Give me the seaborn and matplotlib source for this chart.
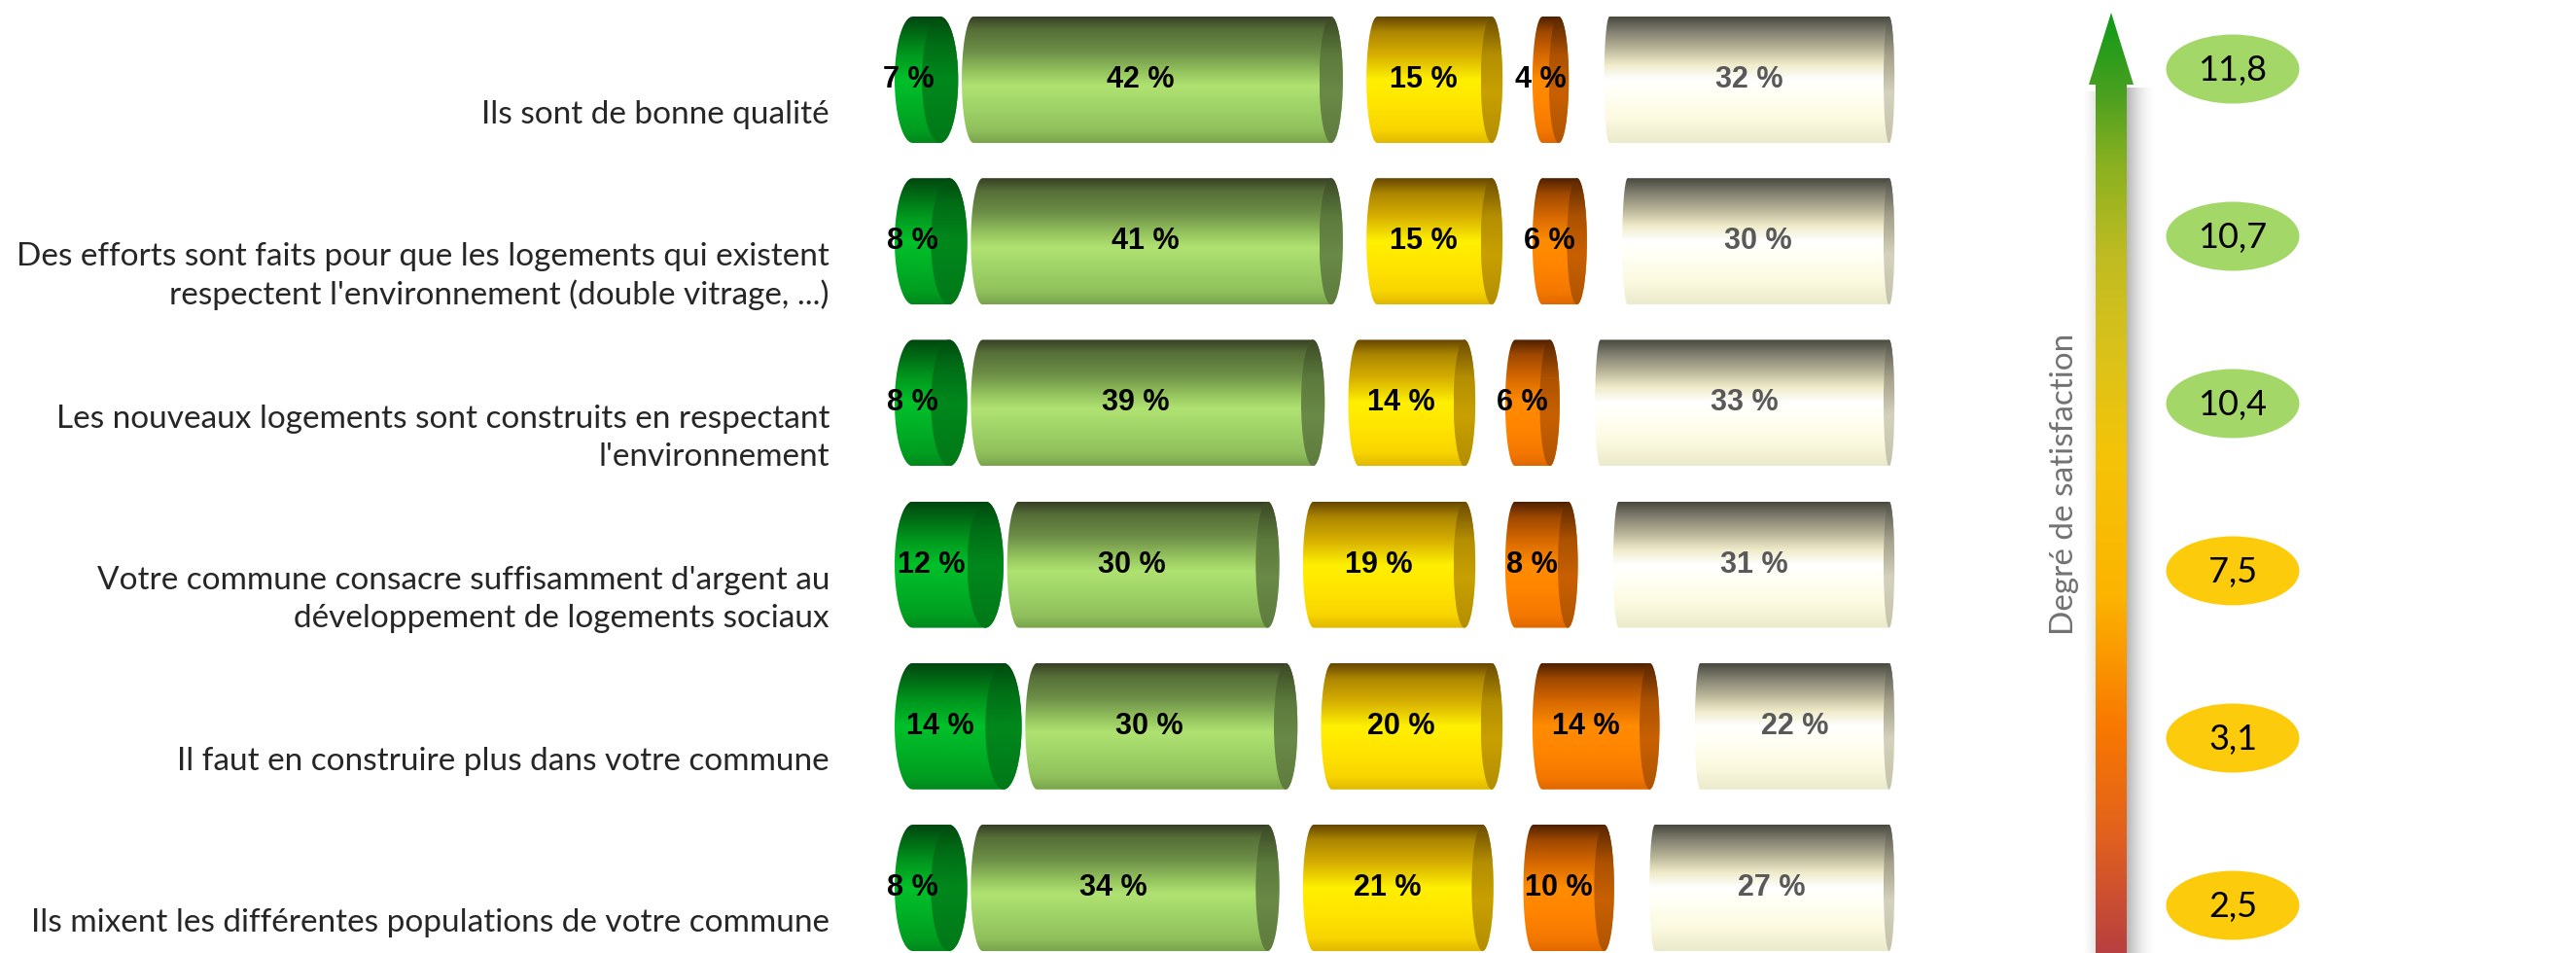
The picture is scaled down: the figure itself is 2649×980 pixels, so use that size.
import numpy as np
import pandas as pd
import matplotlib
matplotlib.use("Agg")
import matplotlib.pyplot as plt
import seaborn as sns
from matplotlib.path import Path
from matplotlib.patches import PathPatch, Ellipse, Polygon
from matplotlib.colors import to_rgb

# ---------------------------------------------------------------- data
questions = [
    "Ils sont de bonne qualité",
    "Des efforts sont faits pour que les logements qui existent\nrespectent l'environnement (double vitrage, ...)",
    "Les nouveaux logements sont construits en respectant\nl'environnement",
    "Votre commune consacre suffisamment d'argent au\ndéveloppement de logements sociaux",
    "Il faut en construire plus dans votre commune",
    "Ils mixent les différentes populations de votre commune",
]
tout_a_fait = [7, 8, 8, 12, 14, 8]
plutot_oui = [42, 41, 39, 30, 30, 34]
plutot_non = [15, 15, 14, 19, 20, 21]
pas_du_tout = [4, 6, 6, 8, 14, 10]
sans_avis = [32, 30, 33, 31, 22, 27]
notes = [11.8, 10.7, 10.4, 7.5, 3.1, 2.5]
axis_title = "Degré de satisfaction"

series = [tout_a_fait, plutot_oui, plutot_non, pas_du_tout, sans_avis]

# ---------------------------------------------------------------- style
W, H = 2649, 980
sns.set_theme(style="white")
plt.rcParams["font.family"] = ["Lato", "DejaVu Sans"]

gaps = [0.4, 2.6, 3.3, 3.9]          # empty space between groups, in % units
end_rx = [2.0, 1.3, 1.2, 1.1, 0.6]   # half width of the cylinder end caps
px_per_pct = 9.33
x_origin_px = 920
row0_px, row_step_px = 82, 166.2
bar_h = 130 / row_step_px

body_shades = [
    [(0, "#004610"), (0.12, "#006814"), (0.3, "#00981e"), (0.5, "#00c02a"), (0.7, "#00b026"), (0.9, "#009e20"), (1, "#00881c")],
    [(0, "#373f24"), (0.1, "#566e38"), (0.28, "#6e9048"), (0.45, "#98c860"), (0.55, "#b0e272"), (0.7, "#a0d468"), (0.9, "#90c05c"), (1, "#7aa44c")],
    [(0, "#664600"), (0.12, "#ac8600"), (0.3, "#d6ae00"), (0.5, "#fff000"), (0.7, "#ffe400"), (0.9, "#f8d400"), (1, "#e0b800")],
    [(0, "#4e2000"), (0.12, "#9e4800"), (0.3, "#d66800"), (0.5, "#ff8c00"), (0.7, "#ff8400"), (0.9, "#f47800"), (1, "#e06800")],
    [(0, "#48483e"), (0.1, "#7a786a"), (0.25, "#b8b498"), (0.38, "#f0ecca"), (0.5, "#ffffff"), (0.62, "#fffff4"), (0.8, "#fcfae0"), (1, "#eceacc")],
]
face_shades = [
    [(0, "#004a0e"), (0.2, "#006c16"), (0.5, "#00881c"), (1, "#007818")],
    [(0, "#3c4826"), (0.3, "#5c7a3c"), (0.6, "#6a8a48"), (1, "#5e7c3e")],
    [(0, "#6c4c00"), (0.3, "#b48e00"), (0.6, "#c8a000"), (1, "#b48e00")],
    [(0, "#582600"), (0.3, "#ac5200"), (0.6, "#c86000"), (1, "#b05400")],
    [(0, "#505048"), (0.3, "#a4a08a"), (0.6, "#d4d2bc"), (1, "#c4c2aa")],
]
label_colors = ["#000000", "#000000", "#000000", "#000000", "#595959"]


def ramp(stops, n=256):
    pos = np.array([s[0] for s in stops])
    cols = np.array([to_rgb(s[1]) for s in stops])
    t = np.linspace(0, 1, n)
    out = np.stack([np.interp(t, pos, cols[:, c]) for c in range(3)], axis=1)
    return out[:, None, :]


def capsule(x0, x1, yc, h, rx):
    t = np.linspace(-np.pi / 2, np.pi / 2, 50)
    right = np.column_stack([x1 - rx + rx * np.cos(t), yc + h / 2 * np.sin(t)])
    left = np.column_stack([x0 + rx - rx * np.cos(t), yc - h / 2 * np.sin(t)])
    verts = np.vstack([right, left, right[:1]])
    codes = [Path.MOVETO] + [Path.LINETO] * (len(verts) - 2) + [Path.CLOSEPOLY]
    return Path(verts, codes)


fig = plt.figure(figsize=(W / 100, H / 100), dpi=100)
ax = fig.add_axes([0, 0, 1, 1])

# left edge of every group, with the gaps between groups
lefts = []
acc = np.zeros(len(questions))
for k, vals in enumerate(series):
    lefts.append(acc.copy())
    acc = acc + np.array(vals) + (gaps[k] if k < len(gaps) else 0)

for k, vals in enumerate(series):
    n_before = len(ax.patches)
    sns.barplot(x=vals, y=questions, order=questions, orient="h", width=bar_h,
                color=body_shades[k][4][1], saturation=1, errorbar=None, ax=ax)
    bars = ax.patches[n_before:]
    body_img = ramp(body_shades[k])
    face_img = ramp(face_shades[k])
    rx = end_rx[k]
    for bar, left, v in zip(bars, lefts[k], vals):
        bar.set_x(left)
        bar.set_visible(False)
        x0 = bar.get_x()
        x1 = x0 + bar.get_width()
        h = bar.get_height()
        yc = bar.get_y() + h / 2
        body = PathPatch(capsule(x0, x1, yc, h, rx), facecolor="none", edgecolor="none")
        ax.add_patch(body)
        im = ax.imshow(body_img, extent=(x0 - 1, x1 + 1, yc + h / 2, yc - h / 2),
                       origin="upper", aspect="auto", interpolation="bilinear", zorder=2)
        im.set_clip_path(body)
        face = Ellipse((x1 - rx, yc), 2 * rx, h, facecolor="none", edgecolor="none")
        ax.add_patch(face)
        imf = ax.imshow(face_img, extent=(x1 - 2 * rx, x1, yc + h / 2, yc - h / 2),
                        origin="upper", aspect="auto", interpolation="bilinear", zorder=3)
        imf.set_clip_path(face)
        cx = (x0 + x1) / 2 if k == 4 else (x0 + x1 - 2 * rx) / 2
        ax.text(cx, yc, f"{v} %", ha="center", va="center", fontsize=22,
                fontweight="bold", family=["Liberation Sans", "DejaVu Sans"],
                color=label_colors[k], zorder=5)

ax.set_xlim(-x_origin_px / px_per_pct, (W - x_origin_px) / px_per_pct)
ax.set_ylim((H - row0_px) / row_step_px, -row0_px / row_step_px)
ax.set_axis_off()

# ---------------------------------------------------------------- overlay in pixel units
ov = fig.add_axes([0, 0, 1, 1], zorder=5)
ov.set_xlim(0, W)
ov.set_ylim(H, 0)
ov.set_axis_off()
ov.patch.set_alpha(0)

for i, q in enumerate(questions):
    yc = row0_px + row_step_px * i + 36
    ov.text(853, yc, q, ha="right", va="center", multialignment="right",
            fontsize=24, fontweight="normal", color="#262626", linespacing=1.35)

# satisfaction arrow
arrow_stops = [(0, "#0c9a18"), (0.09, "#4ea020"), (0.16, "#88b020"), (0.26, "#c0bc22"),
               (0.37, "#dcc21a"), (0.47, "#f4c408"), (0.62, "#fcb400"), (0.76, "#f87800"),
               (0.88, "#e06020"), (1, "#b84040")]
arrow_img = ramp(arrow_stops, 512)
shaft_l, shaft_r, head_l, head_r, tip_y, base_y = 2155, 2187, 2148, 2194, 13, 87
cx_arrow = (shaft_l + shaft_r) / 2

# soft shadow to the right of the shaft
shadow = np.zeros((1, 64, 4))
shadow[..., :3] = 0.45
shadow[..., 3] = np.linspace(0.7, 0, 64) ** 1.8
ov.imshow(shadow, extent=(shaft_r, shaft_r + 30, H, base_y + 4), origin="upper",
          aspect="auto", interpolation="bilinear", zorder=1)
left_shade = np.zeros((1, 32, 4))
left_shade[..., :3] = 0.6
left_shade[..., 3] = np.linspace(0, 0.22, 32)
ov.imshow(left_shade, extent=(shaft_l - 12, shaft_l, H, base_y + 8), origin="upper",
          aspect="auto", interpolation="bilinear", zorder=1)

arrow = Polygon([(shaft_l, H + 5), (shaft_l, base_y), (head_l, base_y), (cx_arrow, tip_y),
                 (head_r, base_y), (shaft_r, base_y), (shaft_r, H + 5)],
                closed=True, facecolor="none", edgecolor="none")
ov.add_patch(arrow)
aim = ov.imshow(arrow_img, extent=(head_l - 2, head_r + 2, H, tip_y), origin="upper",
                aspect="auto", interpolation="bilinear", zorder=2)
aim.set_clip_path(arrow)

ov.text(2123, 498, axis_title, rotation=90, ha="center", va="center",
        fontsize=24, fontweight="normal", color="#727272")

# scores
for i, n in enumerate(notes):
    yc = 71 + 172 * i
    col = "#a3d869" if n >= 10 else "#fccb0c"
    ov.add_patch(Ellipse((2296, yc), 137, 71, facecolor=col, edgecolor="none", zorder=3))
    ov.text(2296, yc + 1, f"{n:.1f}".replace(".", ","), ha="center", va="center",
            fontsize=26, color="#000000", zorder=4)

fig.savefig("out.png", dpi=100, facecolor="white")
